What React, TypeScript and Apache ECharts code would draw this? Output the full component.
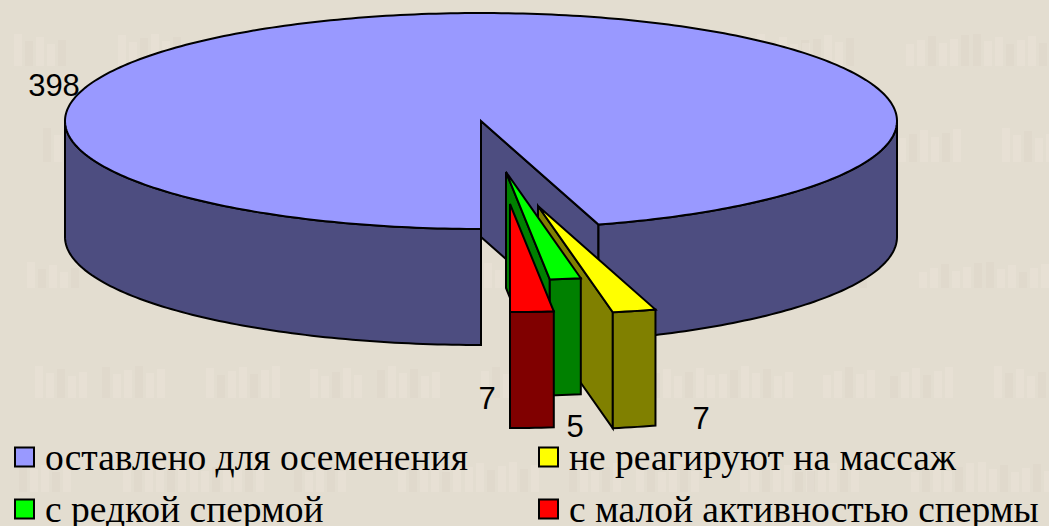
import React, { useEffect, useRef } from "react";
import * as echarts from "echarts";

// Boars by semen-check outcome
const categories = [
  "оставлено для осеменения",
  "не реагируют на массаж",
  "с редкой спермой",
  "с малой активностью спермы",
];
const values = [398, 7, 5, 7];
const topColors = ["#9999FF", "#FFFF00", "#00FF00", "#FF0000"];
const sideColors = ["#4D4D80", "#808000", "#008000", "#800000"];

// Pie projection: ellipse centre, radii and extrusion height
const CX = 481;
const CY = 121;
const RX = 416;
const RY = 108;
const DEPTH = 116;

// Displacement of each pulled-out wedge, and where its value label sits
const explode = [[0, 0], [57, 85], [25, 51], [29, 83]];
const labelAnchors = [[54, 85], [701, 418], [575, 426], [487, 398]];
const legendSlots = [[14, 435], [538, 435], [14, 487], [538, 487]];

const total = values.reduce((a, b) => a + b, 0);
const sweep = (v: number) => (v / total) * 360;

// Angles run from the front of the pie (0) towards the right; the small
// wedges follow one another from the front and the large one takes the rest.
function sliceRange(i: number): [number, number] {
  if (i === 0) {
    const rest = values.slice(1).reduce((a, b) => a + sweep(b), 0);
    return [rest, 360];
  }
  let end = 0;
  for (let k = i + 1; k < values.length; k++) end += sweep(values[k]);
  return [end, end + sweep(values[i])];
}

function rim(deg: number, ox: number, oy: number): number[] {
  const t = (deg * Math.PI) / 180;
  return [CX + ox + RX * Math.sin(t), CY + oy + RY * Math.cos(t)];
}

function arcPoints(a: number, b: number, ox: number, oy: number): number[][] {
  const pts: number[][] = [];
  const n = Math.max(2, Math.ceil(Math.abs(b - a)));
  for (let j = 0; j <= n; j++) pts.push(rim(a + ((b - a) * j) / n, ox, oy));
  return pts;
}

const down = (pts: number[][]) => pts.map(([x, y]) => [x, y + DEPTH]);

function wall(top: number[][]): number[][] {
  return [...top, ...down(top).reverse()];
}

function renderSlice(i: number) {
  return (_params: unknown, api: any) => {
    const value = api.value(0);
    const [from, to] = sliceRange(i);
    const [ox, oy] = explode[i];
    const apex = [CX + ox, CY + oy];
    const stroke = { stroke: "#000", lineWidth: 2, lineJoin: "miter" };
    const side = { ...stroke, fill: sideColors[i] };
    const top = { ...stroke, fill: topColors[i] };
    const children: any[] = [];
    const poly = (points: number[][], style: object) =>
      children.push({ type: "polygon", shape: { points }, style });

    if (i === 0) {
      poly(wall([apex, rim(from, ox, oy)]), side);
      poly(wall(arcPoints(from, 90, ox, oy)), side);
      poly(wall(arcPoints(270, 360, ox, oy)), side);
    } else {
      poly(wall([apex, rim(from, ox, oy)]), side);
      poly(wall(arcPoints(from, to, ox, oy)), side);
    }
    poly([apex, ...arcPoints(from, to, ox, oy)], top);
    children.push({
      type: "text",
      x: labelAnchors[i][0],
      y: labelAnchors[i][1],
      style: {
        text: String(value),
        fill: "#000",
        font: '31px "Liberation Sans"',
        lineHeight: 24,
        align: "center",
        verticalAlign: "middle",
      },
    });
    return { type: "group", children };
  };
}

// Faint woven pattern of the page background
function backgroundTexture() {
  const rects: any[] = [];
  const bands = [[34, 32], [128, 34], [366, 32], [262, 26], [462, 30]];
  bands.forEach(([y0, h], b) => {
    for (let col = 0; col < 12; col++) {
      const x0 = 14 + col * 87 + ((col * 17 + b * 29) % 37);
      for (let k = 0; k < 5 + (col % 3); k++) {
        const lit = (col * 2 + k + b) % 3 !== 1;
        const inset = (k * 7 + col) % 11;
        rects.push({
          type: "rect",
          silent: true,
          z: -10,
          shape: { x: x0 + k * 11, y: y0 + inset, width: 8, height: h - inset },
          style: { fill: lit ? "#EFEAE0" : "#D6CFC1", opacity: 0.28 },
        });
      }
    }
  });
  return rects;
}

export default function App() {
  const ref = useRef<HTMLDivElement>(null);

  useEffect(() => {
    document.body.style.margin = "0";
    const chart = echarts.init(ref.current!, null, { renderer: "svg" });
    chart.setOption({
      animation: false,
      backgroundColor: "#E3DDD0",
      graphic: backgroundTexture(),
      legend: categories.map((name, i) => ({
        data: [name],
        left: legendSlots[i][0],
        top: legendSlots[i][1],
        padding: 0,
        orient: "horizontal",
        selectedMode: false,
        icon: "rect",
        itemWidth: 19,
        itemHeight: 19,
        itemStyle: { borderColor: "#000", borderWidth: 2 },
        textStyle: {
          fontFamily: "Liberation Serif",
          fontSize: 37.5,
          lineHeight: 32,
          color: "#000",
          padding: [0, 0, 12, 6],
        },
      })),
      series: categories.map((name, i) => ({
        type: "custom",
        name,
        coordinateSystem: "none",
        silent: true,
        itemStyle: { color: topColors[i] },
        data: [[values[i]]],
        renderItem: renderSlice(i),
      })),
    });
    return () => chart.dispose();
  }, []);

  return <div ref={ref} style={{ width: 1049, height: 526 }} />;
}
